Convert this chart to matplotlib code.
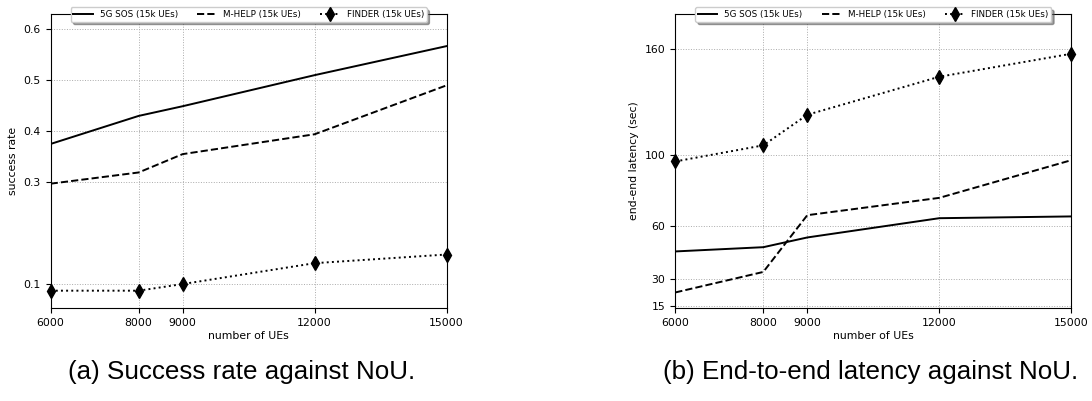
import matplotlib
matplotlib.use('Agg')
import matplotlib.pyplot as plt

# data
nou = [6000, 8000, 9000, 12000, 15000]

sr_5gsos = [0.375, 0.430, 0.449, 0.510, 0.567]
sr_mhelp = [0.297, 0.319, 0.355, 0.394, 0.490]
sr_finder = [0.087, 0.087, 0.100, 0.141, 0.158]

lat_5gsos = [45.7, 48.1, 53.6, 64.5, 65.5]
lat_mhelp = [22.5, 34.1, 66.2, 76.0, 97.3]
lat_finder = [96.6, 105.7, 123.0, 144.5, 157.5]

labels = ['5G SOS (15k UEs)', 'M-HELP (15k UEs)', 'FINDER (15k UEs)']
sr_ticks = [0.1, 0.3, 0.4, 0.5, 0.6]
lat_ticks = [15, 30, 60, 100, 160]

plt.rcParams['font.family'] = 'DejaVu Sans'

fig = plt.figure(figsize=(10.92, 4.01), dpi=100)
ax1 = fig.add_axes([0.0464, 0.2319, 0.3626, 0.7332])
ax2 = fig.add_axes([0.6184, 0.2319, 0.3626, 0.7332])


def draw(ax, ys, yticks, ylim, ylabel):
    ax.plot(nou, ys[0], color='black', linestyle='-', lw=1.4, label=labels[0])
    ax.plot(nou, ys[1], color='black', linestyle='--', lw=1.4, label=labels[1])
    ax.plot(nou, ys[2], color='black', linestyle=':', lw=1.4, marker='d',
            markersize=7, label=labels[2], clip_on=False)
    ax.set_xlim(6000, 15000)
    ax.set_ylim(*ylim)
    ax.set_xticks(nou)
    ax.set_yticks(yticks)
    ax.tick_params(labelsize=7.8, length=3.5)
    ax.grid(True, linestyle=':', color='#aaaaaa', linewidth=0.7)
    ax.set_xlabel('number of UEs', fontsize=7.8, labelpad=2)
    ax.set_ylabel(ylabel, fontsize=7.8, labelpad=4)
    ax.legend(loc='upper center', bbox_to_anchor=(0.5, 1.037), ncol=3,
              fontsize=6.3, shadow=True, framealpha=1, borderpad=0.3,
              columnspacing=2.2, handlelength=2.2)


draw(ax1, [sr_5gsos, sr_mhelp, sr_finder], sr_ticks, (0.053, 0.63), 'success rate')
draw(ax2, [lat_5gsos, lat_mhelp, lat_finder], lat_ticks, (13.7, 180), 'end-end latency (sec)')

fig.text(0.2216, 0.072, '(a) Success rate against NoU.', ha='center', va='center',
         fontsize=18.7, family='Liberation Sans')
fig.text(0.7976, 0.072, '(b) End-to-end latency against NoU.', ha='center', va='center',
         fontsize=18.7, family='Liberation Sans')

fig.savefig('out.png', dpi=100)
